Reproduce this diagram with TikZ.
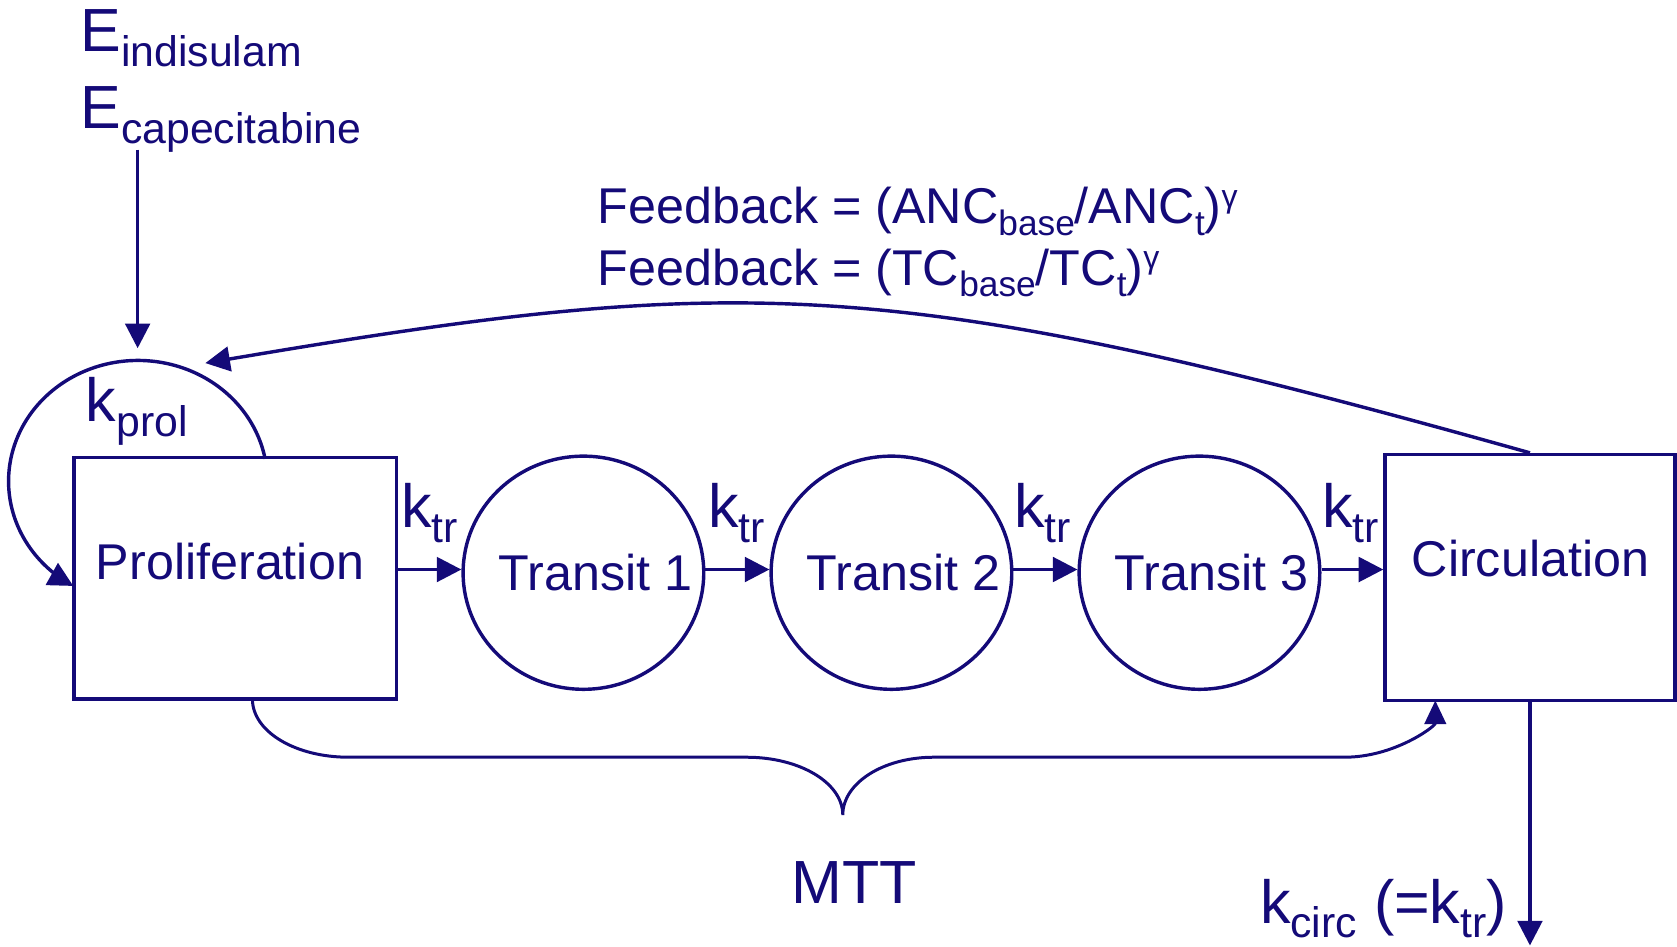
\documentclass[tikz,border=0pt]{standalone}
\usepackage{fontspec}
\setmainfont{Liberation Sans}
\usetikzlibrary{arrows.meta,calc,shapes.geometric}
\definecolor{navy}{RGB}{20,10,120}
\newcommand{\myfs}[1]{\fontsize{#1}{#1}\selectfont}
\newcommand{\msub}[1]{\raisebox{-14pt}{\myfs{40}#1}}
\newcommand{\fsub}[1]{\raisebox{-11pt}{\myfs{33}#1}}
\newcommand{\fsup}[1]{\raisebox{15pt}{\myfs{30}#1}}
\begin{document}
\begin{tikzpicture}[x=1pt,y=-1pt,
  every node/.style={text=navy, inner sep=0pt},
  box/.style={draw=navy, line width=3.2pt, rectangle},
  tcirc/.style={draw=navy, line width=3.2pt, ellipse, minimum width=225pt, minimum height=218pt},
  arr/.style={draw=navy, line width=3.2pt, -{Triangle[length=23pt,width=23pt]}},
  lbl/.style={font=\myfs{47}, anchor=base},
  big/.style={font=\myfs{57}, anchor=base west}]
\useasboundingbox (0,0) rectangle (1568,885);

% compartments
\node[box, minimum width=301.5pt, minimum height=225.6pt] (prol) at (219.8,540.8) {};
\node[lbl] (prolt) at (215,541.5) {Proliferation};
\node[box, minimum width=271pt, minimum height=230pt] (circ) at (1430.5,540) {};
\node[lbl] (circt) at (1431,539) {Circulation};
\node[tcirc] (t1) at (545.5,535.5) {};
\node[tcirc] (t2) at (833.5,535.5) {};
\node[tcirc] (t3) at (1121.5,535.5) {};
\node[lbl] (t1t) at (557,552) {Transit 1};
\node[lbl] (t2t) at (845,552) {Transit 2};
\node[lbl] (t3t) at (1133,552) {Transit 3};

% transfer arrows
\draw[arr] (prol.east |- 0,532.5) -- ([yshift=3pt]t1.west);
\draw[arr] ([yshift=3pt]t1.east) -- ([yshift=3pt]t2.west);
\draw[arr] ([yshift=3pt]t2.east) -- ([yshift=3pt]t3.west);
\draw[arr] ([yshift=3pt]t3.east) -- (circ.west |- 0,532.5);
\node[big] (k1) at (375,493) {k\msub{tr}};
\node[big] (k2) at (662,493) {k\msub{tr}};
\node[big] (k3) at (948,493) {k\msub{tr}};
\node[big] (k4) at (1236,493) {k\msub{tr}};

% drug effects
\node[big] (eind) at (75,48) {E\msub{indisulam}};
\node[big] (ecap) at (75,120) {E\msub{capecitabine}};
\coordinate (inTop) at (128.7,140);
\coordinate (inTip) at (128.7,325.6);
\draw[arr] (inTop) -- (inTip);

% proliferation loop
\node[big] (kprol) at (80,394.5) {k\msub{prol}};
\draw[arr] plot[domain=-10.7:-240, samples=90, smooth] ({129+121*cos(\x)},{450+113*sin(\x)});

% feedback
\node[lbl, anchor=base west] (fb1) at (558.5,209) {Feedback = (ANC\fsub{base}/ANC\fsub{t})\fsup{γ}};
\node[lbl, anchor=base west] (fb2) at (558.5,266.5) {Feedback = (TC\fsub{base}/TC\fsub{t})\fsup{γ}};
\coordinate (fbtip) at (192,339.5);
\draw[arr] (circ.north) .. controls (831,255) and (692,255) .. (fbtip);

% MTT brace
\coordinate (bstart) at (236,653.6);
\coordinate (cusp) at (788,762);
\coordinate (btip) at (1342,655);
\draw[navy, line width=2.8pt, -{Triangle[length=22pt,width=20pt]}]
  (bstart) .. controls (236,684) and (276,708) .. (326,708) -- (698,708)
  .. controls (748,708) and (788,732) .. (cusp)
  .. controls (788,732) and (826,708) .. (873,708) -- (1257,708)
  .. controls (1304,708) and (1342,679) .. (btip);
\node[font=\myfs{57}, anchor=base] (mtt) at (799,845) {MTT};

% elimination
\coordinate (elim) at (1430.5,884);
\draw[arr] (circ.south) -- (elim);
\node[big] (kcirc) at (1178,863) {k\msub{circ} (=k\msub{tr})};
\end{tikzpicture}
\end{document}
